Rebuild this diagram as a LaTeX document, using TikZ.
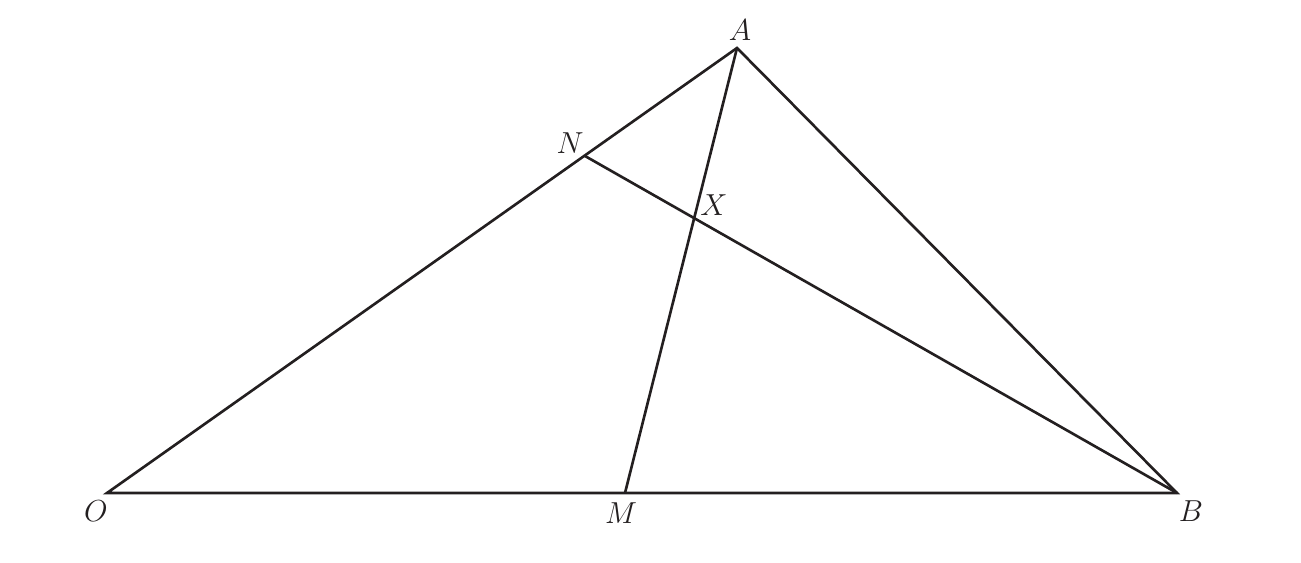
\documentclass[tikz,border=0pt]{standalone}
\usepackage{amsmath}
\usepackage{tikz}
\usepackage{color}
\definecolor{edge}{RGB}{35, 31, 32}
\tikzset{lbl/.style={inner sep=0pt, text=edge, font=\fontsize{19}{21}\selectfont}}
\begin{document}
\begin{tikzpicture}[x=0.02cm, y=0.02cm]
\useasboundingbox (0,0) rectangle (1301,562);
% points of the triangle
\coordinate (O) at (107,69);
\coordinate (B) at (1177,69);
\coordinate (A) at (737,514);
\coordinate (M) at (625,69);
\coordinate (N) at (585,406);

\draw [line width=1.5pt, edge, line join=miter] (O) -- (B) -- (A) -- cycle;
\draw [line width=1.5pt, edge] (A) -- (M);
\draw [line width=1.5pt, edge] (N) -- (B);

\node (labA) at (740,532) [lbl] {$A$};
\node (labO) at (96,51) [lbl] {$O$};
\node (labM) at (621,49) [lbl] {$M$};
\node (labB) at (1191,51) [lbl] {$B$};
\node (labN) at (570,419) [lbl] {$N$};
\node (labX) at (714,357) [lbl] {$X$};
\end{tikzpicture}
\end{document}
